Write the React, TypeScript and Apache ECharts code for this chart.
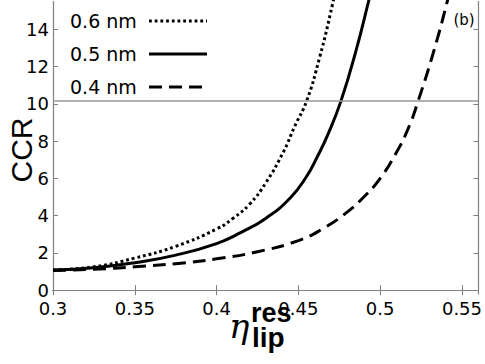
import React, { useEffect, useRef } from 'react';
import * as echarts from 'echarts';

const xTicks = [0.3, 0.35, 0.4, 0.45, 0.5, 0.55];
const yTicks = [0, 2, 4, 6, 8, 10, 12, 14];
const seriesNames = ['0.6 nm', '0.5 nm', '0.4 nm'];

const eta06 = [0.3, 0.325, 0.35, 0.375, 0.4, 0.41, 0.42, 0.43, 0.441, 0.4475, 0.455, 0.463, 0.471, 0.474];
const ccr06 = [1.08, 1.25, 1.72, 2.35, 3.28, 3.85, 4.6, 5.75, 7.45, 8.75, 10.15, 12.5, 15.4, 16.7];

const eta05 = [0.3, 0.325, 0.35, 0.375, 0.4, 0.415, 0.43, 0.445, 0.455, 0.4615, 0.468, 0.476, 0.4852, 0.4929, 0.496];
const ccr05 = [1.08, 1.2, 1.47, 1.88, 2.5, 3.1, 3.85, 4.95, 6.1, 7.15, 8.35, 10.15, 12.85, 15.5, 16.6];

const eta04 = [0.3, 0.325, 0.35, 0.375, 0.4, 0.425, 0.45, 0.465, 0.48, 0.49, 0.5, 0.51, 0.517, 0.523, 0.533, 0.541, 0.544];
const ccr04 = [1.05, 1.12, 1.25, 1.42, 1.68, 2.06, 2.66, 3.3, 4.2, 5.0, 6.0, 7.4, 8.65, 10.1, 12.9, 15.5, 16.6];

const thresholdCCR = 10.15;

const AXIS_COLOR = '#808080';
const FONT = 'DejaVu Sans';
const FONT_HELV = 'Liberation Sans';

function pairs(xs: number[], ys: number[]) {
  return xs.map((x, i) => [x, ys[i]]);
}

export default function App() {
  const ref = useRef<HTMLDivElement>(null);
  useEffect(() => {
    const chart = echarts.init(ref.current!, null, { renderer: 'svg' });
    const dashes: any[] = [[2.8, 2.9], null, [13, 7]];
    const xAxisBase = {
      type: 'value',
      min: 0.3,
      max: 0.56,
      splitLine: { show: false },
      axisLine: { show: true, lineStyle: { color: AXIS_COLOR, width: 1.2 } },
      axisTick: { show: true, inside: true, length: 5, customValues: xTicks, lineStyle: { color: AXIS_COLOR } },
    };
    const yAxisBase = {
      type: 'value',
      min: -0.21,
      max: 15.5,
      splitLine: { show: false },
      axisLine: { show: true, lineStyle: { color: AXIS_COLOR, width: 1.2 } },
      axisTick: { show: true, inside: true, length: 5, customValues: yTicks, lineStyle: { color: AXIS_COLOR } },
    };
    const legendItems: any[] = [];
    seriesNames.forEach((name, i) => {
      const y = 21 + i * 33;
      legendItems.push({
        type: 'text',
        x: 70,
        y,
        style: { text: name, fontSize: 19, fontFamily: FONT, fill: '#000', verticalAlign: 'middle', align: 'left' },
      });
      legendItems.push({
        type: 'line',
        shape: { x1: 149, y1: y, x2: 207, y2: y },
        style: { stroke: '#000', lineWidth: 3, lineDash: dashes[i] || undefined },
      });
    });
    const option: any = {
      animation: false,
      backgroundColor: '#fff',
      grid: { left: 53, right: 6, top: 1.5, bottom: 70 },
      xAxis: [
        {
          ...xAxisBase,
          position: 'bottom',
          axisLabel: {
            show: true,
            customValues: xTicks,
            margin: 5,
            fontSize: 18,
            fontFamily: FONT,
            color: '#000',
          },
        },
        { ...xAxisBase, position: 'top', axisLabel: { show: false } },
      ],
      yAxis: [
        {
          ...yAxisBase,
          position: 'left',
          axisLabel: {
            show: true,
            customValues: yTicks,
            margin: 4,
            fontSize: 18,
            fontFamily: FONT,
            color: '#000',
          },
        },
        { ...yAxisBase, position: 'right', axisLabel: { show: false } },
      ],
      series: [
        { name: seriesNames[0], xs: eta06, ys: ccr06 },
        { name: seriesNames[1], xs: eta05, ys: ccr05 },
        { name: seriesNames[2], xs: eta04, ys: ccr04 },
      ].map((s, i) => ({
        type: 'line',
        name: s.name,
        data: pairs(s.xs, s.ys),
        smooth: 0.5,
        symbol: 'none',
        clip: true,
        xAxisIndex: 0,
        yAxisIndex: 0,
        lineStyle: { color: '#000', width: 3, type: dashes[i] || 'solid', cap: 'butt' },
        markLine: i === 0 ? {
          silent: true,
          symbol: ['none', 'none'],
          label: { show: false },
          lineStyle: { color: '#999', width: 1.5, type: 'solid' },
          data: [{ yAxis: thresholdCCR }],
        } : undefined,
        z: 3,
      })),
      graphic: [
        ...legendItems,
        {
          type: 'text',
          x: 21,
          y: 150,
          rotation: Math.PI / 2,
          style: { text: 'CCR', fontSize: 30, fontFamily: FONT_HELV, fill: '#000', align: 'center', verticalAlign: 'middle' },
        },
        {
          type: 'text',
          x: 464,
          y: 20,
          style: { text: '(b)', fontSize: 15, fontFamily: FONT, fill: '#000', align: 'center', verticalAlign: 'middle' },
        },
        {
          type: 'text',
          x: 229,
          y: 326,
          style: { text: '\u03b7', fontSize: 34, fontStyle: 'italic', fontFamily: 'DejaVu Serif', fill: '#000', align: 'left', verticalAlign: 'middle' },
        },
        {
          type: 'text',
          x: 251,
          y: 313,
          style: { text: 'res', fontSize: 27, fontWeight: 'bold', fontFamily: FONT_HELV, fill: '#000', align: 'left', verticalAlign: 'middle' },
        },
        {
          type: 'text',
          x: 252,
          y: 337,
          style: { text: 'lip', fontSize: 28, fontWeight: 'bold', fontFamily: FONT_HELV, fill: '#000', align: 'left', verticalAlign: 'middle' },
        },
      ],
    };
    chart.setOption(option);
    return () => chart.dispose();
  }, []);
  return <div ref={ref} style={{ width: 485, height: 364, position: 'fixed', left: 0, top: 0 }} />;
}
